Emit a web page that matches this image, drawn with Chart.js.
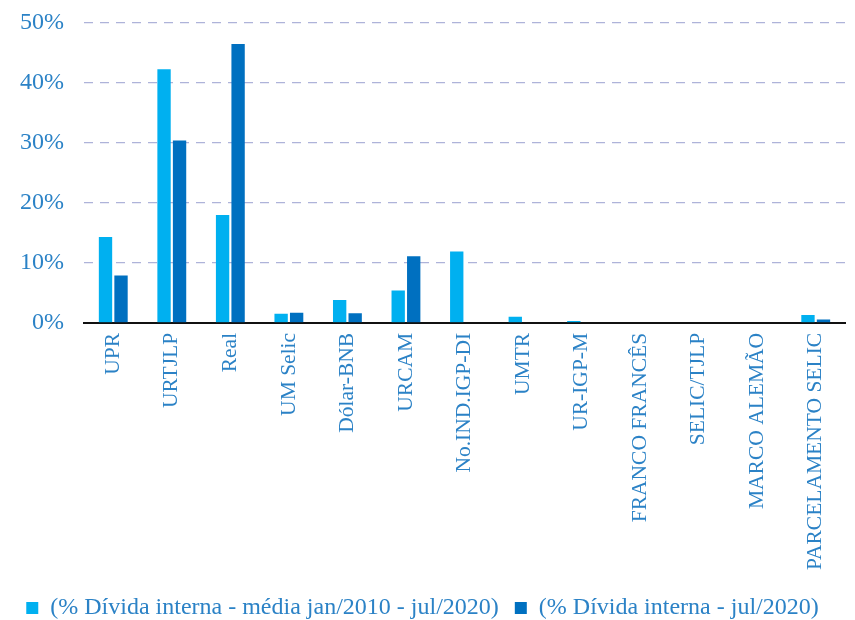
<!DOCTYPE html>
<html>
<head>
<meta charset="utf-8">
<script src="https://cdn.jsdelivr.net/npm/chart.js@4/dist/chart.umd.min.js"></script>
<style>
  html, body { margin: 0; padding: 0; background: #ffffff; }
  #wrap { width: 855px; height: 620px; }
</style>
</head>
<body>
<div id="wrap"><canvas id="c" width="855" height="620"></canvas></div>
<script>
// Indexadores da dívida interna (% do total)
const categories = [
  'UPR', 'URTJLP', 'Real', 'UM Selic', 'Dólar-BNB', 'URCAM', 'No.IND.IGP-DI',
  'UMTR', 'UR-IGP-M', 'FRANCO FRANCÊS', 'SELIC/TJLP', 'MARCO ALEMÃO', 'PARCELAMENTO SELIC'
];
const mediaSeries = [14.3, 42.3, 18.0, 1.5, 3.8, 5.4, 11.9, 1.0, 0.3, 0, 0, 0, 1.3];
const julSeries   = [7.9, 30.4, 46.5, 1.7, 1.6, 11.1, 0, 0, 0, 0, 0, 0, 0.55];
const seriesNames = [
  '(% Dívida interna - média jan/2010 - jul/2020)',
  '(% Dívida interna - jul/2020)'
];
const yTicks = [0, 10, 20, 30, 40, 50];

const labelBlue = '#2b82c6';

new Chart(document.getElementById('c'), {
  type: 'bar',
  data: {
    labels: categories,
    datasets: [
      { label: seriesNames[0], data: mediaSeries, backgroundColor: '#00b0f0',
        categoryPercentage: 0.53, barPercentage: 0.86 },
      { label: seriesNames[1], data: julSeries, backgroundColor: '#0070c0',
        categoryPercentage: 0.53, barPercentage: 0.86 }
    ]
  },
  options: {
    responsive: false,
    animation: false,
    layout: { padding: { top: 23, right: 10, left: 0, bottom: -10 } },
    plugins: {
      tooltip: { enabled: false },
      legend: {
        position: 'bottom',
        labels: {
          boxWidth: 12, boxHeight: 12, padding: 16,
          color: labelBlue,
          font: { family: 'Liberation Serif', size: 24 }
        }
      }
    },
    scales: {
      x: {
        grid: { display: false, drawTicks: false },
        border: { display: true, color: '#111111', width: 2 },
        ticks: {
          minRotation: 90, maxRotation: 90, padding: 10,
          color: labelBlue,
          font: { family: 'Liberation Serif', size: 21.5 }
        }
      },
      y: {
        min: 0, max: 50,
        afterBuildTicks: (axis) => { axis.ticks = yTicks.map(v => ({ value: v })); },
        // let the top tick label sit in the outer padding
        afterFit: (axis) => { axis.paddingTop = 0; axis.paddingBottom = 0; },
        border: { display: false, dash: [9, 7] },
        grid: {
          drawTicks: false,
          color: (ctx) => ctx.tick && ctx.tick.value === 0 ? 'rgba(0,0,0,0)' : '#aeb3d9',
          lineWidth: 1.2
        },
        ticks: {
          padding: 20,
          color: labelBlue,
          font: { family: 'Liberation Serif', size: 24 },
          callback: (v) => v + '%'
        }
      }
    }
  }
});
</script>
</body>
</html>
